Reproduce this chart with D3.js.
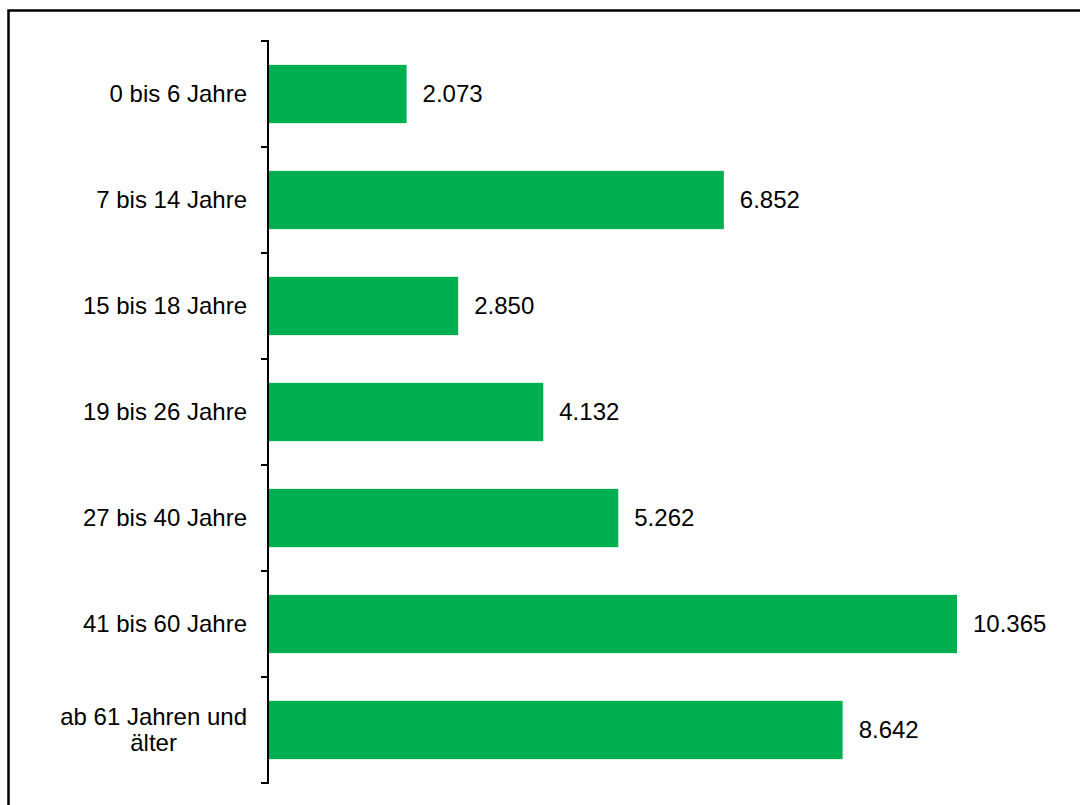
<!DOCTYPE html>
<html>
<head>
<meta charset="utf-8">
<script src="https://cdn.jsdelivr.net/npm/d3@7"></script>
<style>
  html, body { margin: 0; padding: 0; background: #fff; }
  svg { display: block; }
  text { font-family: Arial, "Liberation Sans", sans-serif; fill: #000; }
</style>
</head>
<body>
<svg id="chart" width="1080" height="805"></svg>
<script>
const categories = [
  ["0 bis 6 Jahre"],
  ["7 bis 14 Jahre"],
  ["15 bis 18 Jahre"],
  ["19 bis 26 Jahre"],
  ["27 bis 40 Jahre"],
  ["41 bis 60 Jahre"],
  ["ab 61 Jahren und", "älter"]
];
const values = [2073, 6852, 2850, 4132, 5262, 10365, 8642];
const valueLabels = ["2.073", "6.852", "2.850", "4.132", "5.262", "10.365", "8.642"];

const svg = d3.select("#chart");
const color = "#00B050";
const fs = "24px";

// outer frame (extends past the right/bottom edge)
svg.append("path")
  .attr("d", "M8.5,820 L8.5,10.5 L1100,10.5")
  .attr("fill", "none").attr("stroke", "#000").attr("stroke-width", 2.5);

const x = d3.scaleLinear().domain([0, 10365]).range([269, 957]);
const y = d3.scaleBand().domain(d3.range(categories.length)).range([41, 783])
  .paddingInner(0.45).paddingOuter(0.225);

// bars
svg.selectAll("rect.bar").data(values).enter().append("rect")
  .attr("class", "bar")
  .attr("x", x(0))
  .attr("y", (d, i) => y(i))
  .attr("width", d => x(d) - x(0))
  .attr("height", y.bandwidth())
  .attr("fill", color);

// axis line and ticks at category boundaries
const boundaries = d3.range(categories.length + 1).map(i => 41 + i * (742 / categories.length));
svg.append("line").attr("x1", 268).attr("x2", 268).attr("y1", 41).attr("y2", 783)
  .attr("stroke", "#000").attr("stroke-width", 2);
svg.selectAll("line.tick").data(boundaries).enter().append("line")
  .attr("class", "tick")
  .attr("x1", 261).attr("x2", 269).attr("y1", d => d).attr("y2", d => d)
  .attr("stroke", "#000").attr("stroke-width", 2);

// category labels
const labelRight = 247;
categories.forEach((lines, i) => {
  const cy = y(i) + y.bandwidth() / 2;
  const lh = 26;
  if (lines.length === 1) {
    svg.append("text").attr("x", labelRight).attr("y", cy).attr("dy", "0.35em")
      .attr("text-anchor", "end").attr("font-size", fs).text(lines[0]);
  } else {
    const g = svg.append("text").attr("font-size", fs).attr("text-anchor", "middle");
    const tmp = svg.append("text").attr("font-size", fs).text(lines[0]);
    const w = tmp.node().getComputedTextLength();
    tmp.remove();
    const cx = labelRight - w / 2;
    lines.forEach((ln, k) => {
      g.append("tspan").attr("x", cx)
        .attr("y", cy + (k - (lines.length - 1) / 2) * lh)
        .attr("dy", "0.35em").text(ln);
    });
  }
});

// value labels
svg.selectAll("text.val").data(values).enter().append("text")
  .attr("class", "val")
  .attr("x", d => x(d) + 16)
  .attr("y", (d, i) => y(i) + y.bandwidth() / 2)
  .attr("dy", "0.35em")
  .attr("font-size", fs)
  .text((d, i) => valueLabels[i]);
</script>
</body>
</html>
